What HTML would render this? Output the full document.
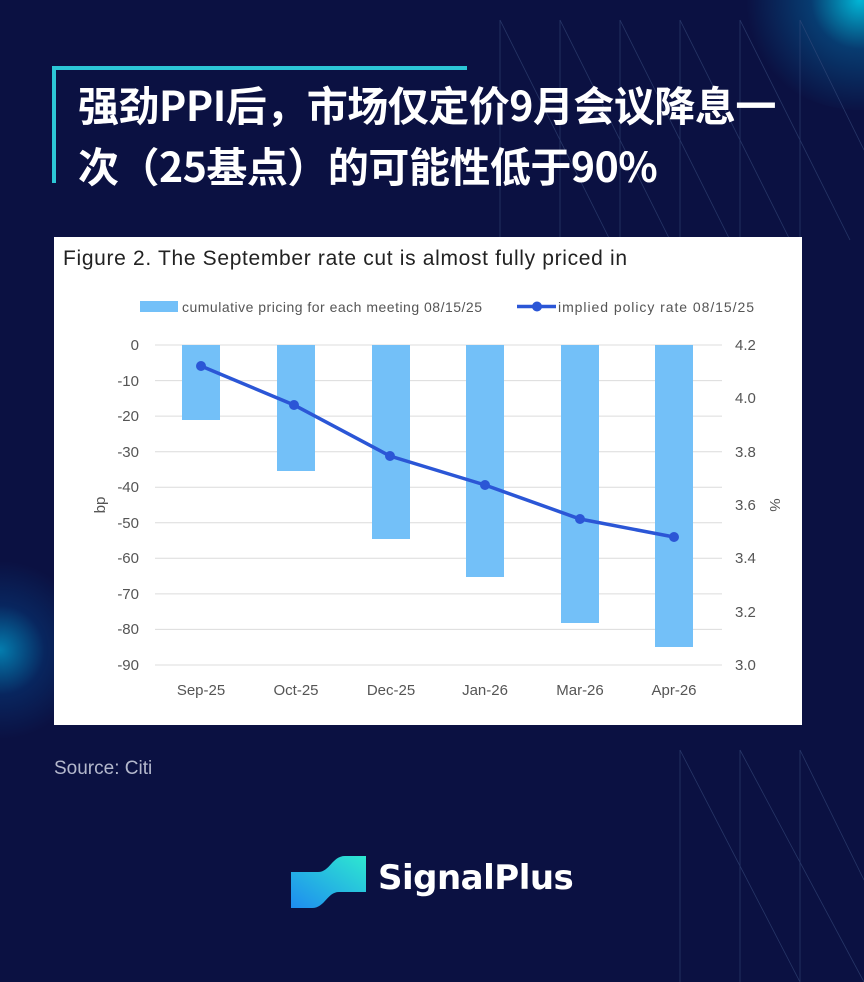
<!DOCTYPE html>
<html><head><meta charset="utf-8"><style>
html,body{margin:0;padding:0}
body{width:864px;height:982px;position:relative;overflow:hidden;background:#0b1142;font-family:"Liberation Sans","Noto Sans CJK SC",sans-serif}
.glow1{position:absolute;left:740px;top:-110px;width:240px;height:220px;border-radius:50%;background:radial-gradient(circle,rgba(0,200,230,0.9) 0%,rgba(0,140,200,0.35) 30%,rgba(10,14,61,0) 70%)}
.glow2{position:absolute;left:-90px;top:560px;width:180px;height:180px;border-radius:50%;background:radial-gradient(circle,rgba(0,170,220,0.7) 0%,rgba(0,100,180,0.25) 35%,rgba(10,14,61,0) 70%)}
.title{position:absolute;left:78px;top:73px;color:#fff;font-family:"Noto Sans CJK SC",sans-serif;font-weight:bold;font-size:41px;line-height:61px;letter-spacing:-0.5px;white-space:nowrap}
.src{position:absolute;left:54px;top:758px;color:#b4b8cc;font-size:19px}
.logo{position:absolute;left:378px;top:858px;color:#fff;font-weight:bold;font-size:34px;font-family:"DejaVu Sans","Liberation Sans",sans-serif;letter-spacing:-0.5px}
</style></head><body>
<div class="glow1"></div><div class="glow2"></div>
<svg width="864" height="982" style="position:absolute;left:0;top:0">
<g stroke="#3a4f80" stroke-width="0.8" opacity="0.6">
<line x1="500" y1="20" x2="500" y2="240"/><line x1="500" y1="20" x2="610" y2="240"/>
<line x1="560" y1="20" x2="560" y2="240"/><line x1="560" y1="20" x2="670" y2="240"/>
<line x1="620" y1="20" x2="620" y2="240"/><line x1="620" y1="20" x2="730" y2="240"/>
<line x1="680" y1="20" x2="680" y2="240"/><line x1="680" y1="20" x2="790" y2="240"/>
<line x1="740" y1="20" x2="740" y2="240"/><line x1="740" y1="20" x2="850" y2="240"/>
<line x1="800" y1="20" x2="800" y2="240"/><line x1="800" y1="20" x2="864" y2="150"/>
<line x1="680" y1="750" x2="680" y2="982"/><line x1="680" y1="750" x2="800" y2="982"/>
<line x1="740" y1="750" x2="740" y2="982"/><line x1="740" y1="750" x2="864" y2="982"/>
<line x1="800" y1="750" x2="800" y2="982"/><line x1="800" y1="750" x2="864" y2="880"/>
</g>
<rect x="52" y="66" width="415" height="4" fill="#2cc6d6"/>
<rect x="52" y="66" width="4" height="117" fill="#2cc6d6"/>
<rect x="54" y="237" width="748" height="488" fill="#fff"/>
<text x="63" y="265" font-family="Liberation Sans,sans-serif" font-size="21" fill="#222" textLength="564">Figure 2. The September rate cut is almost fully priced in</text>
<rect x="140" y="301" width="38" height="11" fill="#73c0f8"/>
<text x="182" y="312" font-size="14" fill="#555" textLength="300" font-family="Liberation Sans,sans-serif">cumulative pricing for each meeting  08/15/25</text>
<line x1="517" y1="306.5" x2="556" y2="306.5" stroke="#2b56d6" stroke-width="3.5"/><circle cx="537" cy="306.5" r="5" fill="#2b56d6"/>
<text x="558" y="312" font-size="14" fill="#555" textLength="196" font-family="Liberation Sans,sans-serif">implied policy rate 08/15/25</text>
<g stroke="#dcdcdc" stroke-width="1">
<line x1="155" y1="345" x2="722" y2="345"/><line x1="155" y1="380.6" x2="722" y2="380.6"/><line x1="155" y1="416.1" x2="722" y2="416.1"/><line x1="155" y1="451.7" x2="722" y2="451.7"/><line x1="155" y1="487.2" x2="722" y2="487.2"/><line x1="155" y1="522.8" x2="722" y2="522.8"/><line x1="155" y1="558.3" x2="722" y2="558.3"/><line x1="155" y1="593.9" x2="722" y2="593.9"/><line x1="155" y1="629.4" x2="722" y2="629.4"/><line x1="155" y1="665" x2="722" y2="665"/>
</g>
<g fill="#73c0f8">
<rect x="182" y="345" width="38" height="75"/><rect x="277" y="345" width="38" height="126"/><rect x="372" y="345" width="38" height="194"/><rect x="466" y="345" width="38" height="232"/><rect x="561" y="345" width="38" height="278"/><rect x="655" y="345" width="38" height="302"/>
</g>
<polyline points="201,366 294,405 390,456 485,485 580,519 674,537" fill="none" stroke="#2b56d6" stroke-width="3.5"/>
<g fill="#2b56d6"><circle cx="201" cy="366" r="5"/><circle cx="294" cy="405" r="5"/><circle cx="390" cy="456" r="5"/><circle cx="485" cy="485" r="5"/><circle cx="580" cy="519" r="5"/><circle cx="674" cy="537" r="5"/></g>
<g font-family="Liberation Sans,sans-serif" font-size="15" fill="#555" text-anchor="end">
<text x="139" y="350">0</text><text x="139" y="386">-10</text><text x="139" y="421">-20</text><text x="139" y="457">-30</text><text x="139" y="492">-40</text><text x="139" y="528">-50</text><text x="139" y="563">-60</text><text x="139" y="599">-70</text><text x="139" y="634">-80</text><text x="139" y="670">-90</text>
</g>
<g font-family="Liberation Sans,sans-serif" font-size="15" fill="#555">
<text x="735" y="350">4.2</text><text x="735" y="403">4.0</text><text x="735" y="457">3.8</text><text x="735" y="510">3.6</text><text x="735" y="563">3.4</text><text x="735" y="617">3.2</text><text x="735" y="670">3.0</text>
</g>
<g font-family="Liberation Sans,sans-serif" font-size="15" fill="#555" text-anchor="middle">
<text x="201" y="695">Sep-25</text><text x="296" y="695">Oct-25</text><text x="391" y="695">Dec-25</text><text x="485" y="695">Jan-26</text><text x="580" y="695">Mar-26</text><text x="674" y="695">Apr-26</text>
</g>
<text transform="translate(105,505) rotate(-90)" font-family="Liberation Sans,sans-serif" font-size="15" fill="#555" text-anchor="middle">bp</text>
<text transform="translate(770,505) rotate(90)" font-family="Liberation Sans,sans-serif" font-size="15" fill="#555" text-anchor="middle">%</text>
<defs><linearGradient id="lg" x1="0" y1="1" x2="1" y2="0"><stop offset="0" stop-color="#1e8cf0"/><stop offset="1" stop-color="#2ee8d0"/></linearGradient></defs>
<path d="M291,872 L318,872 C330,872 332,856 345,856 L366,856 L366,892 L339,892 C327,892 325,908 312,908 L291,908 Z" fill="url(#lg)"/>
</svg>
<div class="title">强劲PPI后，市场仅定价9月会议降息一<br>次（25基点）的可能性低于90%</div>
<div class="src">Source: Citi</div>
<div class="logo">SignalPlus</div>
</body></html>
